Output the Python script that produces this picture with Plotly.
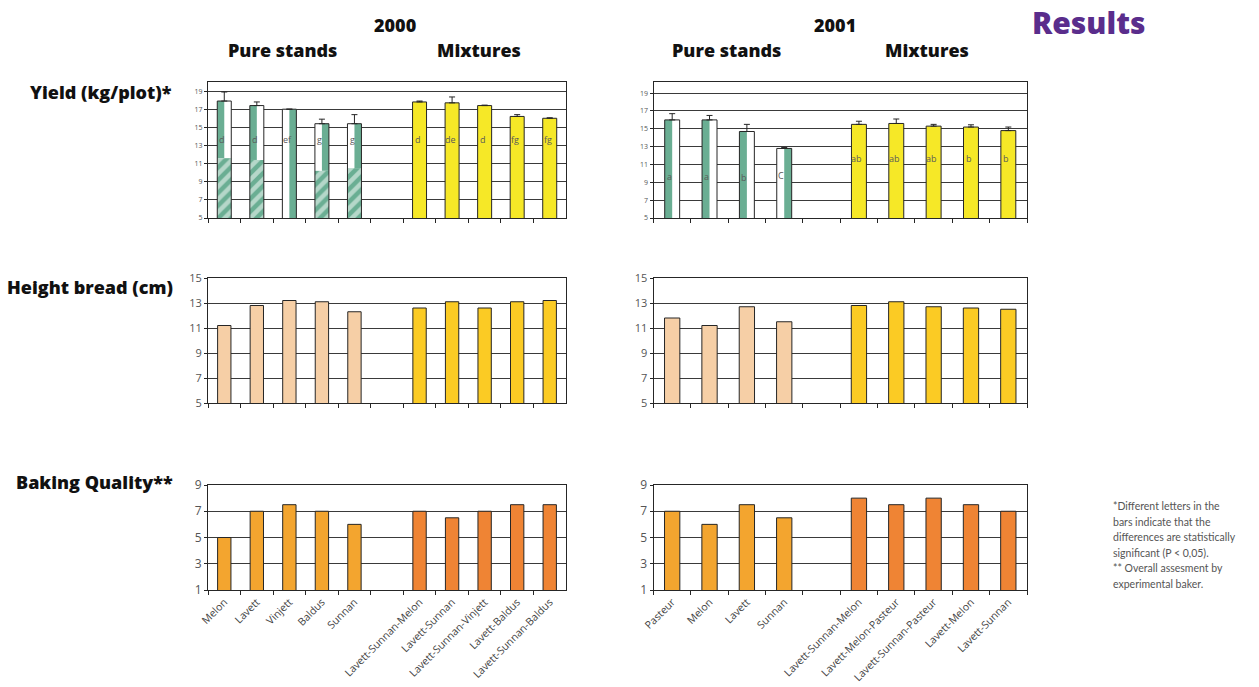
import plotly.graph_objects as go

# ---------------- data ----------------
GAP = " "
pure_2000 = ["Melon", "Lavett", "Vinjett", "Baldus", "Sunnan"]
mix_2000 = ["Lavett-Sunnan-Melon", "Lavett-Sunnan", "Lavett-Sunnan-Vinjett",
            "Lavett-Baldus", "Lavett-Sunnan-Baldus"]
pure_2001 = ["Pasteur", "Melon", "Lavett", "Sunnan"]
mix_2001 = ["Lavett-Sunnan-Melon", "Lavett-Melon-Pasteur", "Lavett-Sunnan-Pasteur",
            "Lavett-Melon", "Lavett-Sunnan"]
cats_2000 = pure_2000 + [GAP] + mix_2000
cats_2001 = pure_2001 + [GAP] + mix_2001

# Yield (kg/plot), bar value and top of the error whisker
yield_2000_pure = [17.9, 17.4, 17.0, 15.4, 15.4]
yield_2000_pure_hi = [18.9, 17.8, 17.0, 15.9, 16.4]
yield_2000_pure_hatch = [11.6, 11.4, 5.0, 10.2, 10.5]
yield_2000_pure_green_left = [True, True, False, False, False]
yield_2000_pure_sig = ["d", "d", "ef", "g", "g"]
yield_2000_mix = [17.8, 17.7, 17.4, 16.2, 16.0]
yield_2000_mix_hi = [17.9, 18.35, 17.45, 16.4, 16.05]
yield_2000_mix_sig = ["d", "de", "d", "fg", "fg"]

yield_2001_pure = [16.0, 16.0, 14.7, 12.8]
yield_2001_pure_hi = [16.7, 16.5, 15.5, 12.9]
yield_2001_pure_green_left = [True, True, True, False]
yield_2001_pure_sig = ["a", "a", "b", "C"]
yield_2001_mix = [15.5, 15.6, 15.3, 15.2, 14.8]
yield_2001_mix_hi = [15.85, 16.1, 15.5, 15.45, 15.2]
yield_2001_mix_sig = ["ab", "ab", "ab", "b", "b"]

# Height bread (cm)
height_2000_pure = [11.2, 12.8, 13.2, 13.1, 12.3]
height_2000_mix = [12.6, 13.1, 12.6, 13.1, 13.2]
height_2001_pure = [11.8, 11.2, 12.7, 11.5]
height_2001_mix = [12.8, 13.1, 12.7, 12.6, 12.5]

# Baking quality (score)
baking_2000_pure = [5, 7, 7.5, 7, 6]
baking_2000_mix = [7, 6.5, 7, 7.5, 7.5]
baking_2001_pure = [7, 6, 7.5, 6.5]
baking_2001_mix = [8, 7.5, 8, 7.5, 7]

yield_ticks = [5, 7, 9, 11, 13, 15, 17, 19]
height_ticks = [5, 7, 9, 11, 13, 15]
baking_ticks = [1, 3, 5, 7, 9]

footnote_lines = [
    "*Different letters in the",
    "bars indicate that the",
    "differences are statistically",
    "significant (P &lt; 0,05).",
    "** Overall assesment by",
    "experimental baker.",
]

# ---------------- styling ----------------
W, H = 1259, 687
GREEN = "#6aae93"
YELLOW = "#f6e827"
PEACH = "#f6cfa6"
GOLD = "#fbcb24"
ORANGE_PURE = "#f3a52f"
ORANGE_MIX = "#ef8434"
EDGE = "#262626"
GRID = "#3a3a3a"
FONT = "Open Sans"


def fx(x):
    return x / W


def fy(y):
    return 1 - y / H


LEFT_COL = [fx(208), fx(566)]
RIGHT_COL = [fx(653.5), fx(1027)]
ROW_YIELD = [fy(218), fy(82)]
ROW_HEIGHT = [fy(403), fy(278)]
ROW_BAKING = [fy(590), fy(485)]

fig = go.Figure()
annotations = []


def outline(cats, vals, hi, width, xa, ya, fill="rgba(0,0,0,0)"):
    kw = {}
    if hi is not None:
        kw["error_y"] = dict(type="data", symmetric=False,
                             array=[h - v for h, v in zip(hi, vals)],
                             arrayminus=[0] * len(vals),
                             color=EDGE, thickness=1, width=3)
    fig.add_trace(go.Bar(x=cats, y=vals, width=width, xaxis=xa, yaxis=ya,
                         marker=dict(color=fill, line=dict(color=EDGE, width=1)),
                         showlegend=False, hoverinfo="skip", **kw))


def halves(cats, vals, base, green_left, width, xa, ya):
    # white body with a green band on the left or the right half
    seg = [v - b for v, b in zip(vals, base)]
    fig.add_trace(go.Bar(x=cats, y=seg, base=base, width=width,
                         xaxis=xa, yaxis=ya,
                         marker=dict(color="white", line=dict(width=0)),
                         showlegend=False, hoverinfo="skip"))
    offsets = [-width / 2 if g else 0 for g in green_left]
    fig.add_trace(go.Bar(x=cats, y=seg, base=base, width=width / 2,
                         offset=offsets, xaxis=xa, yaxis=ya,
                         marker=dict(color=GREEN, line=dict(width=0)),
                         showlegend=False, hoverinfo="skip"))


def letters(cats, sig, yv, xa, ya, xshift=-2):
    for c, s, y in zip(cats, sig, yv):
        annotations.append(dict(x=c, y=y, xref=xa.replace("axis", ""),
                                yref=ya.replace("axis", ""), text=s,
                                showarrow=False, xshift=xshift,
                                font=dict(family=FONT, size=9, color="#5a5a5a")))


# ---- Yield 2000 ----
w0 = 0.43
halves(pure_2000, yield_2000_pure, yield_2000_pure_hatch,
       yield_2000_pure_green_left, w0, "x", "y")
fig.add_trace(go.Bar(
    x=pure_2000, y=[h - 5 for h in yield_2000_pure_hatch], base=[5] * 5,
    width=w0, xaxis="x", yaxis="y",
    marker=dict(color=GREEN, line=dict(width=0),
                pattern=dict(shape="/", fgcolor="white", size=9,
                             solidity=0.5, fillmode="overlay")),
    showlegend=False, hoverinfo="skip"))
outline(pure_2000, yield_2000_pure, yield_2000_pure_hi, w0, "x", "y")
outline(mix_2000, yield_2000_mix, yield_2000_mix_hi, w0, "x", "y", fill=YELLOW)
letters(pure_2000, yield_2000_pure_sig, [13.7] * 5, "xaxis", "yaxis")
letters(mix_2000, yield_2000_mix_sig, [13.7] * 5, "xaxis", "yaxis")

# ---- Yield 2001 ----
w1 = 0.40
halves(pure_2001, yield_2001_pure, [5] * 4, yield_2001_pure_green_left,
       w1, "x2", "y2")
outline(pure_2001, yield_2001_pure, yield_2001_pure_hi, w1, "x2", "y2")
outline(mix_2001, yield_2001_mix, yield_2001_mix_hi, w1, "x2", "y2", fill=YELLOW)
letters(pure_2001, yield_2001_pure_sig, [9.7, 9.7, 9.5, 9.75], "xaxis2", "yaxis2",
        xshift=-3)
letters(mix_2001, yield_2001_mix_sig, [11.7] * 5, "xaxis2", "yaxis2")

# ---- Height ----
wh = 0.41
outline(pure_2000, height_2000_pure, None, wh, "x3", "y3", fill=PEACH)
outline(mix_2000, height_2000_mix, None, wh, "x3", "y3", fill=GOLD)
outline(pure_2001, height_2001_pure, None, wh, "x4", "y4", fill=PEACH)
outline(mix_2001, height_2001_mix, None, wh, "x4", "y4", fill=GOLD)

# ---- Baking quality ----
outline(pure_2000, baking_2000_pure, None, wh, "x5", "y5", fill=ORANGE_PURE)
outline(mix_2000, baking_2000_mix, None, wh, "x5", "y5", fill=ORANGE_MIX)
outline(pure_2001, baking_2001_pure, None, wh, "x6", "y6", fill=ORANGE_PURE)
outline(mix_2001, baking_2001_mix, None, wh, "x6", "y6", fill=ORANGE_MIX)


def xaxis(cats, domain, anchor, labels):
    return dict(type="category", categoryorder="array", categoryarray=cats,
                domain=domain, anchor=anchor, showgrid=False, zeroline=False,
                showline=True, mirror=True, linecolor=EDGE, linewidth=1,
                ticks="outside", tickson="boundaries", ticklen=4,
                tickcolor=EDGE, showticklabels=labels, tickangle=-45,
                ticklabelstandoff=1,
                tickfont=dict(family=FONT, size=10.5, color="#444444"),
                automargin=False, fixedrange=True)


def yaxis(rng, ticks, domain, anchor, size):
    return dict(range=rng, tickvals=ticks, domain=domain, anchor=anchor,
                showgrid=True, gridcolor=GRID, gridwidth=1, zeroline=False,
                showline=True, mirror=True, linecolor=EDGE, linewidth=1,
                ticks="outside", ticklen=3, tickcolor=EDGE,
                tickfont=dict(family=FONT, size=size, color="#555555"),
                automargin=False, fixedrange=True)


layout_axes = dict(
    xaxis=xaxis(cats_2000, LEFT_COL, "y", False),
    yaxis=yaxis([5, 20], yield_ticks, ROW_YIELD, "x", 7),
    xaxis2=xaxis(cats_2001, RIGHT_COL, "y2", False),
    yaxis2=yaxis([5, 20.25], yield_ticks, ROW_YIELD, "x2", 7),
    xaxis3=xaxis(cats_2000, LEFT_COL, "y3", False),
    yaxis3=yaxis([5, 15], height_ticks, ROW_HEIGHT, "x3", 11),
    xaxis4=xaxis(cats_2001, RIGHT_COL, "y4", False),
    yaxis4=yaxis([5, 15], height_ticks, ROW_HEIGHT, "x4", 11),
    xaxis5=xaxis(cats_2000, LEFT_COL, "y5", True),
    yaxis5=yaxis([1, 9], baking_ticks, ROW_BAKING, "x5", 12),
    xaxis6=xaxis(cats_2001, RIGHT_COL, "y6", True),
    yaxis6=yaxis([1, 9], baking_ticks, ROW_BAKING, "x6", 12),
)


def head(text, x, y, size=18, color="#111111", xanchor="center", yanchor="middle",
         weight=800, family=FONT):
    annotations.append(dict(text=text, x=fx(x), y=fy(y), xref="paper",
                            yref="paper", showarrow=False, xanchor=xanchor,
                            yanchor=yanchor,
                            font=dict(family=family, size=size, color=color,
                                      weight=weight)))


head("2000", 395, 25)
head("Pure stands", 282, 50)
head("Mixtures", 479, 50)
head("2001", 835, 25)
head("Pure stands", 726, 50)
head("Mixtures", 927, 50)
head("Results", 1088, 0, size=30, color="#5a2d8c", yanchor="top")
head("Yield (kg/plot)*", 174, 92, size=18, xanchor="right")
head("Height bread (cm)", 175, 287, size=18, xanchor="right")
head("Baking Quality**", 175, 482, size=18, xanchor="right")

for i, line in enumerate(footnote_lines):
    head(line, 1111, 506 + 15.5 * i, size=10.5, color="#555555",
         xanchor="left", weight=400, family="Lato")

fig.update_layout(
    width=W, height=H, margin=dict(l=0, r=0, t=0, b=0, autoexpand=False),
    paper_bgcolor="white", plot_bgcolor="white", barmode="overlay",
    showlegend=False, annotations=annotations, **layout_axes)

fig.write_html("out.html", config={"displayModeBar": False})
